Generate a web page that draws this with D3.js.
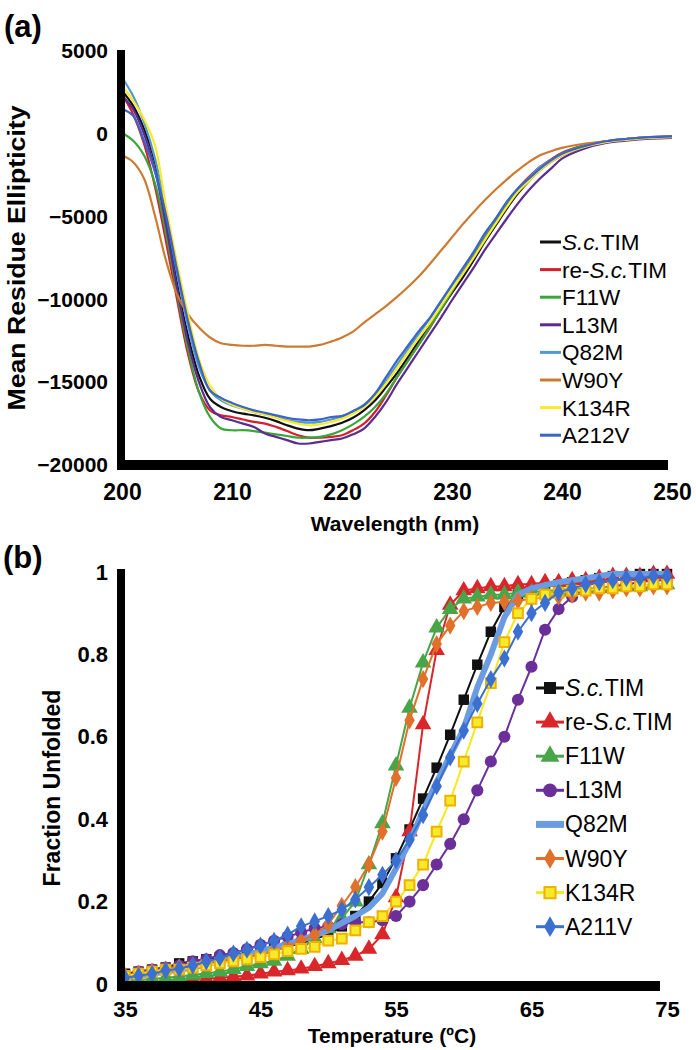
<!DOCTYPE html>
<html><head><meta charset="utf-8">
<script src="https://cdn.jsdelivr.net/npm/d3@7"></script>
<style>body{margin:0;background:#fff}svg{display:block}text{font-family:"Liberation Sans",Arial,sans-serif}</style>
</head><body><svg id="c" width="696" height="1050"></svg>
<script>
// ---------- Panel (a) data ----------
const wavelengths = [200,201,202,203,204,205,206,207,208,209,210,211,212,213,214,215,216,217,218,219,220,221,222,223,224,225,226,227,228,229,230,231,232,233,234,235,236,237,238,239,240,242,244,246,248,250];
const cdNames = ["S.c.TIM","re-S.c.TIM","F11W","L13M","Q82M","W90Y","K134R","A212V"];
const cdColors = ["#111111","#d4202a","#3aa63a","#5b2c8f","#4f9ccc","#cd7a32","#fde92a","#3a64c8"];
const cdScTIM = [2600,1700,300,-1700,-5000,-9000,-12200,-14600,-16000,-16500,-16750,-16900,-17000,-17150,-17350,-17600,-17800,-17900,-17800,-17650,-17450,-17150,-16700,-16100,-15300,-14450,-13500,-12500,-11600,-10600,-9600,-8650,-7600,-6500,-5500,-4500,-3600,-2850,-2200,-1700,-1300,-800,-500,-350,-250,-200];
const cdReScTIM = [2400,1200,-600,-3200,-6500,-10000,-13300,-15600,-16700,-17000,-17100,-17250,-17400,-17500,-17700,-17950,-18200,-18350,-18350,-18300,-18200,-17900,-17500,-16800,-15800,-14700,-13700,-12700,-11700,-10600,-9500,-8400,-7300,-6200,-5200,-4200,-3300,-2600,-2000,-1550,-1150,-700,-450,-300,-200,-150];
const cdF11W = [50,-400,-1300,-3000,-6000,-9600,-13000,-15600,-17100,-17800,-17900,-17900,-17950,-18050,-18150,-18250,-18350,-18350,-18300,-18150,-17900,-17550,-17100,-16500,-15700,-14700,-13700,-12700,-11650,-10600,-9500,-8400,-7400,-6300,-5300,-4300,-3400,-2700,-2100,-1600,-1200,-700,-450,-300,-250,-200];
const cdL13M = [2300,1500,0,-2200,-5500,-9300,-12600,-15000,-16500,-17100,-17300,-17500,-17700,-18100,-18300,-18500,-18700,-18700,-18600,-18500,-18400,-18150,-17800,-17100,-16200,-15100,-14100,-13100,-12100,-11100,-10050,-9050,-8050,-7000,-6050,-5100,-4200,-3400,-2700,-2100,-1500,-900,-550,-400,-300,-250];
const cdQ82M = [3400,2300,700,-1500,-4800,-8400,-11600,-14100,-15500,-16100,-16400,-16600,-16800,-16950,-17100,-17300,-17400,-17450,-17400,-17250,-17050,-16750,-16350,-15750,-14900,-13950,-13000,-12050,-11150,-10150,-9150,-8150,-7150,-6050,-5100,-4100,-3300,-2650,-2000,-1600,-1200,-750,-450,-300,-200,-150];
const cdW90Y = [-1300,-1700,-2700,-4950,-7650,-9700,-10900,-11700,-12300,-12650,-12750,-12800,-12800,-12750,-12800,-12850,-12850,-12850,-12750,-12550,-12300,-11950,-11400,-10900,-10400,-9850,-9250,-8600,-7850,-7050,-6250,-5450,-4700,-4000,-3350,-2750,-2200,-1700,-1300,-1050,-850,-600,-450,-300,-200,-150];
const cdK134R = [2900,2000,900,-700,-4400,-7800,-10900,-13600,-15200,-16000,-16350,-16600,-16800,-16950,-17150,-17350,-17500,-17600,-17550,-17400,-17200,-16900,-16500,-15900,-15100,-14150,-13200,-12300,-11400,-10400,-9400,-8450,-7450,-6400,-5400,-4400,-3500,-2850,-2200,-1700,-1300,-800,-500,-350,-250,-200];
const cdA212V = [1500,1100,-400,-2300,-4900,-8200,-11300,-13800,-15500,-15950,-16250,-16500,-16700,-16850,-17000,-17150,-17250,-17300,-17250,-17100,-17050,-16750,-16400,-15700,-14700,-13700,-12800,-11900,-11100,-10100,-9100,-8100,-7100,-6000,-5100,-4100,-3300,-2700,-2100,-1600,-1200,-750,-450,-300,-200,-150];
const cdSeries = [cdScTIM,cdReScTIM,cdF11W,cdL13M,cdQ82M,cdW90Y,cdK134R,cdA212V];
const cdYTicks = [5000,0,-5000,-10000,-15000,-20000];
const cdXTicks = [200,210,220,230,240,250];

// ---------- Panel (b) data ----------
const temps = [35,36,37,38,39,40,41,42,43,44,45,46,47,48,49,50,51,52,53,54,55,56,57,58,59,60,61,62,63,64,65,66,67,68,69,70,71,72,73,74,75];
const fuNames = ["S.c.TIM","re-S.c.TIM","F11W","L13M","Q82M","W90Y","K134R","A211V"];
const fuScTIM = [0.025,0.03,0.035,0.04,0.05,0.055,0.06,0.065,0.07,0.075,0.08,0.085,0.09,0.1,0.11,0.12,0.14,0.165,0.2,0.245,0.305,0.375,0.45,0.525,0.605,0.69,0.775,0.855,0.915,0.945,0.96,0.965,0.97,0.975,0.98,0.985,0.99,0.99,0.995,0.995,0.995];
const fuReScTIM = [0,0,0.003,0.005,0.008,0.01,0.012,0.015,0.018,0.02,0.025,0.03,0.033,0.037,0.043,0.05,0.058,0.068,0.085,0.12,0.21,0.37,0.63,0.81,0.92,0.955,0.96,0.965,0.965,0.97,0.97,0.975,0.975,0.98,0.98,0.985,0.99,0.99,0.99,0.995,0.995];
const fuF11W = [0.01,0.01,0.012,0.015,0.018,0.022,0.026,0.03,0.036,0.043,0.05,0.056,0.068,0.085,0.11,0.135,0.16,0.2,0.29,0.39,0.53,0.67,0.78,0.865,0.91,0.935,0.94,0.945,0.945,0.95,0.95,0.955,0.955,0.96,0.96,0.96,0.965,0.965,0.965,0.97,0.97];
const fuL13M = [0.02,0.03,0.035,0.04,0.045,0.055,0.06,0.07,0.075,0.085,0.095,0.105,0.115,0.125,0.135,0.14,0.145,0.15,0.15,0.155,0.165,0.2,0.24,0.29,0.34,0.4,0.47,0.54,0.6,0.69,0.77,0.86,0.91,0.94,0.955,0.96,0.965,0.97,0.975,0.98,0.98];
const fuQ82M = [0.015,0.02,0.025,0.03,0.035,0.04,0.048,0.055,0.063,0.07,0.08,0.088,0.097,0.107,0.118,0.13,0.148,0.165,0.185,0.22,0.28,0.345,0.42,0.49,0.555,0.62,0.72,0.8,0.89,0.945,0.96,0.968,0.975,0.98,0.985,0.99,0.995,0.995,0.995,0.995,0.995];
const fuW90Y = [0.02,0.025,0.03,0.035,0.04,0.045,0.05,0.055,0.06,0.065,0.07,0.08,0.09,0.105,0.12,0.145,0.19,0.235,0.29,0.37,0.5,0.64,0.74,0.825,0.87,0.905,0.915,0.925,0.927,0.93,0.935,0.94,0.94,0.945,0.95,0.95,0.955,0.96,0.96,0.965,0.965];
const fuK134R = [0.02,0.025,0.03,0.035,0.035,0.04,0.045,0.05,0.055,0.06,0.065,0.072,0.08,0.085,0.09,0.105,0.11,0.13,0.15,0.165,0.2,0.24,0.29,0.37,0.445,0.54,0.635,0.73,0.83,0.9,0.935,0.945,0.95,0.955,0.955,0.96,0.96,0.965,0.965,0.97,0.97];
const fuA211V = [0.015,0.02,0.025,0.033,0.037,0.045,0.055,0.063,0.074,0.083,0.093,0.105,0.12,0.14,0.152,0.165,0.18,0.205,0.235,0.265,0.3,0.35,0.41,0.48,0.55,0.615,0.68,0.74,0.79,0.855,0.9,0.925,0.95,0.96,0.97,0.975,0.98,0.985,0.985,0.99,0.99];
const fuSeries = [fuScTIM,fuReScTIM,fuF11W,fuL13M,fuQ82M,fuW90Y,fuK134R,fuA211V];
const fuYTicks = [0,0.2,0.4,0.6,0.8,1];
const fuYLabels = ["0","0.2","0.4","0.6","0.8","1"];
const fuXTicks = [35,45,55,65,75];

// styles for panel (b)
const fuStyle = [
  {line:"#111111", w:2, sym:d3.symbolSquare, size:110, fill:"#111111", stroke:"none"},
  {line:"#d9262a", w:2, sym:d3.symbolTriangle, size:120, fill:"#d9262a", stroke:"none"},
  {line:"#48a548", w:2, sym:d3.symbolTriangle, size:120, fill:"#48a548", stroke:"none"},
  {line:"#6b2f99", w:2, sym:d3.symbolCircle, size:115, fill:"#6b2f99", stroke:"none"},
  {line:"#6b9be0", w:6, sym:null},
  {line:"#e0702a", w:2, sym:d3.symbolDiamond, size:95, fill:"#e0702a", stroke:"none"},
  {line:"#f7e81d", w:2, sym:d3.symbolSquare, size:95, fill:"#f7ea2a", stroke:"#f0b000"},
  {line:"#3b6fd0", w:2, sym:d3.symbolDiamond, size:95, fill:"#3b6fd0", stroke:"none"}
];

const svg = d3.select("#c");
const FONT = "Liberation Sans, Arial, sans-serif";

function legendLabel(t, n){
  if(n.indexOf("S.c.")>=0){
    const pre = n.replace("S.c.TIM","");
    if(pre) t.append("tspan").text(pre);
    t.append("tspan").attr("font-style","italic").text("S.c.");
    t.append("tspan").text("TIM");
  } else t.text(n);
}

// ================= Panel (a) =================
const xa = d3.scaleLinear().domain([200,250]).range([122,672]);
const ya = d3.scaleLinear().domain([-20000,5000]).range([465,51]);
const ga = svg.append("g");

ga.append("text").attr("x",4).attr("y",37).attr("font-size",31).attr("font-weight","bold").text("(a)");

const lineA = d3.line().x((d,i)=>xa(wavelengths[i])).y(d=>ya(d)).curve(d3.curveCatmullRom.alpha(0.5));
cdSeries.forEach((s,k)=>{
  ga.append("path").attr("d",lineA(s)).attr("fill","none").attr("stroke",cdColors[k]).attr("stroke-width",2.2);
});

const yAxisA = d3.axisLeft(ya).tickValues(cdYTicks).tickSize(0).tickPadding(13).tickFormat(d3.format("d"));
const gya = ga.append("g").attr("transform",`translate(${xa(200)-1},0)`).call(yAxisA);
gya.select(".domain").remove();
gya.selectAll("text").attr("font-size",21).attr("font-weight","bold").attr("font-family",FONT);
const xAxisA = d3.axisBottom(xa).tickValues(cdXTicks).tickSize(0).tickPadding(19);
const gxa = ga.append("g").attr("transform",`translate(0,${ya(-20000)})`).call(xAxisA);
gxa.select(".domain").remove();
gxa.selectAll("text").attr("font-size",23).attr("font-weight","bold").attr("font-family",FONT);
ga.append("line").attr("x1",121).attr("x2",121).attr("y1",50).attr("y2",470).attr("stroke","#000").attr("stroke-width",8);
ga.append("line").attr("x1",117).attr("x2",668).attr("y1",465).attr("y2",465).attr("stroke","#000").attr("stroke-width",10);

ga.append("text").attr("x",395).attr("y",531).attr("text-anchor","middle").attr("font-size",21).attr("font-weight","bold").text("Wavelength (nm)");
ga.append("text").attr("transform","translate(25,258) rotate(-90)").attr("text-anchor","middle").attr("font-size",23).attr("font-weight","bold")
  .attr("textLength",305).attr("lengthAdjust","spacingAndGlyphs").text("Mean Residue Ellipticity");

cdNames.forEach((n,k)=>{
  const y = 242 + k*27.6;
  ga.append("line").attr("x1",540).attr("x2",561).attr("y1",y).attr("y2",y).attr("stroke",cdColors[k]).attr("stroke-width",3);
  legendLabel(ga.append("text").attr("x",562).attr("y",y+8).attr("font-size",22.5), n);
});

// ================= Panel (b) =================
const xb = d3.scaleLinear().domain([35,75]).range([125,667]);
const yb = d3.scaleLinear().domain([0,1]).range([984,572]);
const gb = svg.append("g");
gb.append("text").attr("x",3).attr("y",568).attr("font-size",31).attr("font-weight","bold").text("(b)");

const lineB = d3.line().x((d,i)=>xb(temps[i])).y(d=>yb(d));
fuSeries.forEach((s,k)=>{
  const st = fuStyle[k];
  const g = gb.append("g");
  g.append("path").attr("d",lineB(s)).attr("fill","none").attr("stroke",st.line).attr("stroke-width",st.w).attr("stroke-linejoin","round");
  if(st.sym){
    g.selectAll("path.m").data(s).enter().append("path").attr("class","m")
      .attr("d",d3.symbol().type(st.sym).size(st.size))
      .attr("transform",(d,i)=>`translate(${xb(temps[i])},${yb(d)})`)
      .attr("fill",st.fill).attr("stroke",st.stroke).attr("stroke-width",st.stroke==="none"?0:2);
  }
});

const yAxisB = d3.axisLeft(yb).tickValues(fuYTicks).tickSize(0).tickPadding(13).tickFormat((d,i)=>fuYLabels[i]);
const gyb = gb.append("g").attr("transform",`translate(121,0)`).call(yAxisB);
gyb.select(".domain").remove();
gyb.selectAll("text").attr("font-size",22).attr("font-weight","bold").attr("font-family",FONT);
const xAxisB = d3.axisBottom(xb).tickValues(fuXTicks).tickSize(0).tickPadding(17);
const gxb = gb.append("g").attr("transform",`translate(0,${yb(0)})`).call(xAxisB);
gxb.select(".domain").remove();
gxb.selectAll("text").attr("font-size",22).attr("font-weight","bold").attr("font-family",FONT);
gb.append("line").attr("x1",121).attr("x2",121).attr("y1",569).attr("y2",991).attr("stroke","#000").attr("stroke-width",8);
gb.append("line").attr("x1",117).attr("x2",660).attr("y1",986).attr("y2",986).attr("stroke","#000").attr("stroke-width",10);

gb.append("text").attr("x",392).attr("y",1043).attr("text-anchor","middle").attr("font-size",21).attr("font-weight","bold").text("Temperature (ºC)");
gb.append("text").attr("transform","translate(60,788) rotate(-90)").attr("text-anchor","middle").attr("font-size",23).attr("font-weight","bold").text("Fraction Unfolded");

fuNames.forEach((n,k)=>{
  const y = 688 + k*34.1;
  const st = fuStyle[k];
  gb.append("line").attr("x1",536).attr("x2",564).attr("y1",y).attr("y2",y).attr("stroke",st.line).attr("stroke-width",st.w===6?7:3);
  if(st.sym){
    gb.append("path").attr("d",d3.symbol().type(st.sym).size(st.size*1.3)).attr("transform",`translate(550,${y})`)
      .attr("fill",st.fill).attr("stroke",st.stroke).attr("stroke-width",st.stroke==="none"?0:2);
  }
  legendLabel(gb.append("text").attr("x",565).attr("y",y+8).attr("font-size",23), n);
});
</script></body></html>
